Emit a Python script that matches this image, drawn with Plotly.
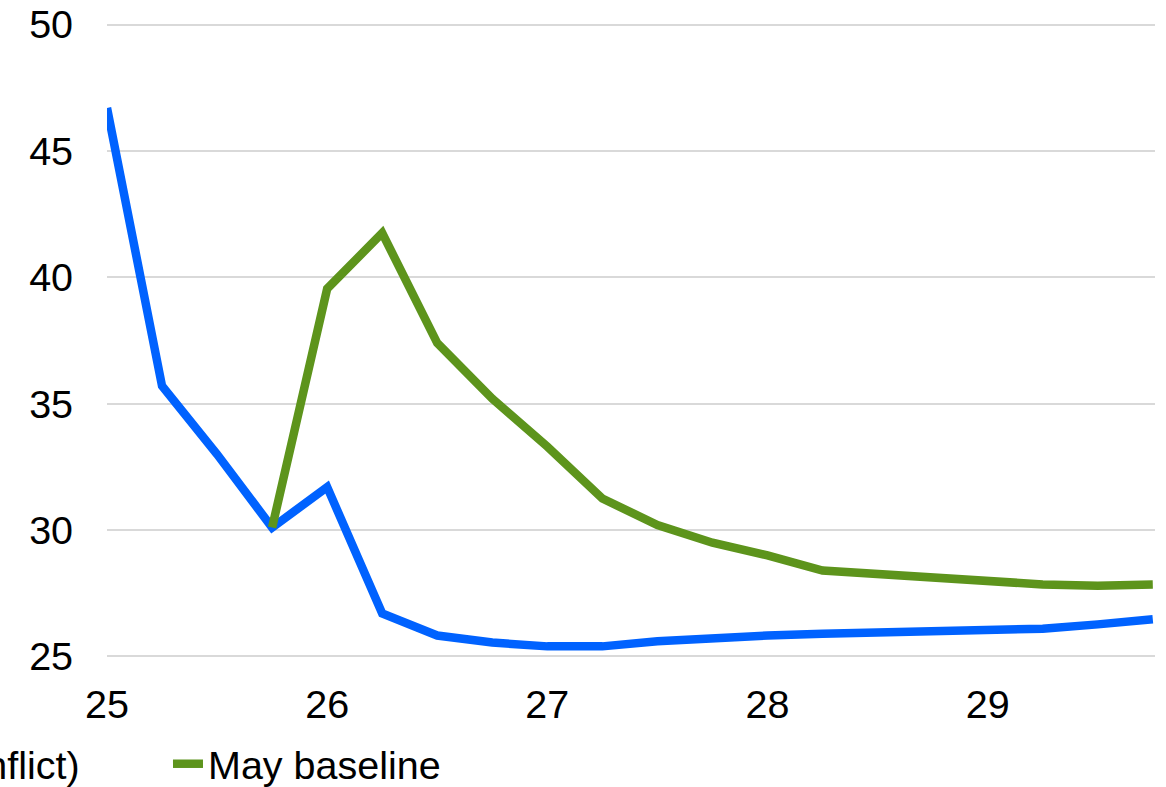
import plotly.graph_objects as go

quarters = [25, 25.25, 25.5, 25.75, 26, 26.25, 26.5, 26.75, 27, 27.25,
            27.5, 27.75, 28, 28.25, 28.5, 28.75, 29, 29.25, 29.5, 29.75]
pre_conflict = [46.7, 35.7, 33.0, 30.1, 31.7, 26.7, 25.83, 25.55, 25.4, 25.4,
                25.6, 25.75, 25.83, 25.9, 25.95, 26.03, 26.07, 26.1, 26.27, 26.47]
may_x = quarters[3:]
may_baseline = [30.1, 39.55, 41.75, 37.4, 35.2, 33.3, 31.25, 30.2, 29.5, 29.0,
                28.4, 28.25, 28.1, 27.93, 27.85, 27.8, 27.85]
x_ticks = [25, 26, 27, 28, 29]
x_labels = ["25", "26", "27", "28", "29"]
y_ticks = [25, 30, 35, 40, 45, 50]

BLUE = "#0062FF"
GREEN = "#5D941C"
FONT = "Liberation Sans, Arial, sans-serif"

fig = go.Figure()
fig.add_trace(go.Scatter(x=quarters, y=pre_conflict, mode="lines",
                         name="February baseline (pre-conflict)",
                         legendwidth=630,
                         line=dict(color=BLUE, width=8.5)))
fig.add_trace(go.Scatter(x=may_x, y=may_baseline, mode="lines",
                         name="May baseline",
                         line=dict(color=GREEN, width=8.5)))

fig.update_layout(
    width=1166, height=787,
    margin=dict(l=107, r=11, t=23, b=129, autoexpand=False),
    paper_bgcolor="white", plot_bgcolor="white",
    font=dict(family=FONT, size=39.5, color="black"),
    showlegend=True,
    legend=dict(orientation="h", x=-0.5859, xanchor="left", y=-0.167, yanchor="middle",
                font=dict(size=39.5), bgcolor="rgba(0,0,0,0)", borderwidth=0),
    xaxis=dict(range=[25, 29.76], tickvals=x_ticks, ticktext=x_labels,
               showgrid=False, zeroline=False, showline=False,
               ticks="outside", ticklen=12, tickcolor="rgba(0,0,0,0)"),
    yaxis=dict(range=[24.94, 50.06], tickvals=y_ticks, showgrid=True,
               gridcolor="#D9D9D9", gridwidth=1.5, zeroline=False, showline=False,
               ticks="outside", ticklen=25, tickcolor="rgba(0,0,0,0)"),
)

fig.write_html("out.html", config={"displayModeBar": False},
               post_script="document.body.style.margin='0';")
